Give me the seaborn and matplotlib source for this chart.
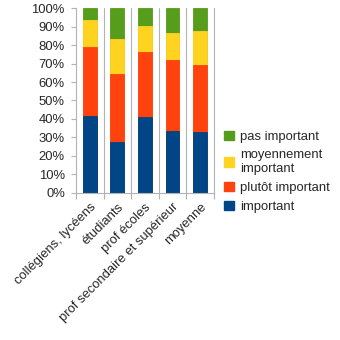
import matplotlib
matplotlib.use("Agg")
import matplotlib.pyplot as plt
import seaborn as sns
import numpy as np
import pandas as pd
from matplotlib.patches import Patch

categories = ["collégiens, lycéens", "étudiants", "prof écoles",
              "prof secondaire et supérieur", "moyenne"]
series_names = ["important", "plutôt important", "moyennement\nimportant", "pas important"]
important = [41.5, 27.6, 41.2, 33.6, 33.0]
plutot = [37.4, 36.7, 35.1, 38.2, 36.3]
moyen = [14.8, 19.1, 14.0, 15.0, 18.5]
pas = [6.3, 16.6, 9.7, 13.2, 12.2]
colors = ["#004586", "#ff420e", "#ffd320", "#579d1c"]
yticklabels = [f"{v}%" for v in range(0, 101, 10)]

sns.set_style("white")
plt.rcParams["font.family"] = ["Liberation Sans", "DejaVu Sans"]
FS = 9.4

fig = plt.figure(figsize=(3.4, 3.4), dpi=100)
ax = fig.add_axes([0.2235, 0.433, 0.4055, 0.543])

vals = np.array([important, plutot, moyen, pas])
cum = np.cumsum(vals, axis=0)
for i in range(3, -1, -1):
    df = pd.DataFrame({"cat": categories, "v": cum[i]})
    sns.barplot(data=df, x="cat", y="v", color=colors[i], width=0.5,
                saturation=1, ax=ax, edgecolor=colors[i], linewidth=0.6)

ax.set_xlim(-0.5, 4.5)
ax.set_ylim(0, 100)
ax.set_xlabel("")
ax.set_ylabel("")
gray = "#b3b3b3"
for x in [0.5, 1.5, 2.5, 3.5]:
    ax.axvline(x, color=gray, lw=0.8, zorder=0)
for s in ["left", "bottom", "right"]:
    ax.spines[s].set_color(gray)
    ax.spines[s].set_linewidth(0.8)
ax.spines["top"].set_visible(False)

ax.set_yticks(range(0, 101, 10))
ax.set_yticklabels(yticklabels, fontsize=FS)
ax.tick_params(axis="y", length=3.5, color=gray, width=0.8, pad=4.5, left=True)
ax.set_xticks(range(5))
ax.set_xticklabels(categories, rotation=45, ha="right", rotation_mode="anchor", fontsize=FS)
ax.tick_params(axis="x", length=0, pad=6)
ax.set_xticks([-0.5, 0.5, 1.5, 2.5, 3.5, 4.5], minor=True)
ax.tick_params(axis="x", which="minor", length=4, color=gray, width=0.8, bottom=True)

handles = [Patch(facecolor=colors[i], edgecolor=colors[i]) for i in range(3, -1, -1)]
labels = [series_names[i] for i in range(3, -1, -1)]
fig.legend(handles, labels, loc="upper left", bbox_to_anchor=(0.632, 0.643),
           frameon=False, fontsize=FS, handlelength=0.75, handleheight=0.75,
           handletextpad=0.45, labelspacing=0.5, borderpad=0.2)

fig.savefig("out.png", dpi=100)
